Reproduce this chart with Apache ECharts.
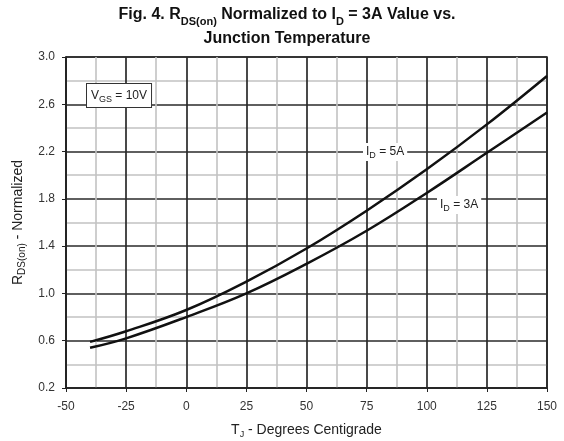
<!DOCTYPE html>
<html>
<head>
<meta charset="utf-8">
<script src="https://cdn.jsdelivr.net/npm/echarts@6/dist/echarts.min.js"></script>
<style>
  html, body { margin: 0; padding: 0; background: #fff; }
  #root { width: 564px; height: 441px; }
</style>
</head>
<body>
<div id="root"></div>
<script>
const temps = [-40, -25, 0, 25, 50, 75, 100, 125, 150];
const rds5A = [0.59, 0.68, 0.86, 1.10, 1.38, 1.70, 2.05, 2.43, 2.84];
const rds3A = [0.54, 0.62, 0.80, 1.00, 1.25, 1.53, 1.85, 2.19, 2.53];
const xTicks = [-50, -25, 0, 25, 50, 75, 100, 125, 150];
const yTicks = [0.2, 0.6, 1.0, 1.4, 1.8, 2.2, 2.6, 3.0];

const FONT = 'Liberation Sans, Arial, sans-serif';
const container = document.getElementById('root');
const myChart = echarts.init(container);

const toPairs = ys => temps.map((t, i) => [t, ys[i]]);

// rich-text styles: normal run + subscript run
const richText = (size, subSize, bold, lh) => ({
  a: { fontSize: size, fontFamily: FONT, fontWeight: bold ? 'bold' : 'normal', lineHeight: lh || size + 4 },
  s: { fontSize: subSize, fontFamily: FONT, fontWeight: bold ? 'bold' : 'normal', verticalAlign: 'bottom', lineHeight: subSize + 1 }
});

const makeSerie = (name, ys) => ({
  name,
  type: 'line',
  smooth: 0.4,
  symbol: 'none',
  lineStyle: { color: '#111', width: 2.5 },
  data: toPairs(ys),
  z: 5
});

const axisCommon = {
  axisLine: { show: true, onZero: false, lineStyle: { color: '#222', width: 1.5 } },
  axisTick: { show: true, length: 4, lineStyle: { color: '#222' } },
  splitLine: { show: true, lineStyle: { color: '#2a2a2a', width: 1.7 } },
  minorTick: { show: false, splitNumber: 2 },
  minorSplitLine: { show: true, lineStyle: { color: '#c2c2c2', width: 1.6 } }
};

const option = {
  animation: false,
  grid: {
    left: 66, right: 17, top: 57, bottom: 53,
    containLabel: false,
    outerBoundsMode: 'none',
    show: true,
    borderColor: '#222',
    borderWidth: 1.5
  },
  xAxis: {
    type: 'value',
    min: xTicks[0],
    max: xTicks[xTicks.length - 1],
    interval: 25,
    name: '{a|T}{s|J}{a| - Degrees Centigrade}',
    nameLocation: 'middle',
    nameGap: 33,
    nameTextStyle: { color: '#222', rich: richText(14, 9, false) },
    axisLabel: { fontSize: 12, fontFamily: FONT, color: '#333', margin: 13 },
    ...axisCommon
  },
  yAxis: {
    type: 'value',
    min: yTicks[0],
    max: yTicks[yTicks.length - 1],
    interval: 0.4,
    name: '{a|R}{s|DS(on)}{a| - Normalized}',
    nameLocation: 'middle',
    nameRotate: 90,
    nameGap: 29,
    nameTextStyle: { color: '#222', rich: richText(14, 10, false) },
    axisLabel: {
      fontSize: 12, fontFamily: FONT, color: '#333', margin: 11,
      formatter: v => v.toFixed(1)
    },
    ...axisCommon
  },
  graphic: [
    {
      type: 'text',
      x: 287, y: 3,
      style: {
        text: '{a|Fig. 4. R}{s|DS(on)}{a| Normalized to I}{s|D}{a| = 3A Value vs.}\n{a|Junction Temperature}',
        align: 'center',
        fill: '#111',
        rich: richText(16, 11, true, 24)
      }
    },
    {
      type: 'text',
      x: 87, y: 84,
      z: 10,
      style: {
        text: '{a|V}{s|GS}{a| = 10V}',
        fill: '#222',
        backgroundColor: '#fff',
        borderColor: '#333',
        borderWidth: 1,
        padding: [4, 4, 3, 4],
        rich: richText(12, 9, false)
      }
    },
    {
      type: 'text',
      x: 363, y: 143,
      z: 10,
      style: {
        text: '{a|I}{s|D}{a| = 5A}',
        fill: '#222',
        backgroundColor: '#fff',
        padding: [1, 3, 1, 3],
        rich: richText(12, 9, false)
      }
    },
    {
      type: 'text',
      x: 437, y: 196,
      z: 10,
      style: {
        text: '{a|I}{s|D}{a| = 3A}',
        fill: '#222',
        backgroundColor: '#fff',
        padding: [1, 3, 1, 3],
        rich: richText(12, 9, false)
      }
    }
  ],
  series: [makeSerie('ID = 5A', rds5A), makeSerie('ID = 3A', rds3A)]
};

myChart.setOption(option);

window.onresize = () => myChart.resize();
</script>
</body>
</html>
